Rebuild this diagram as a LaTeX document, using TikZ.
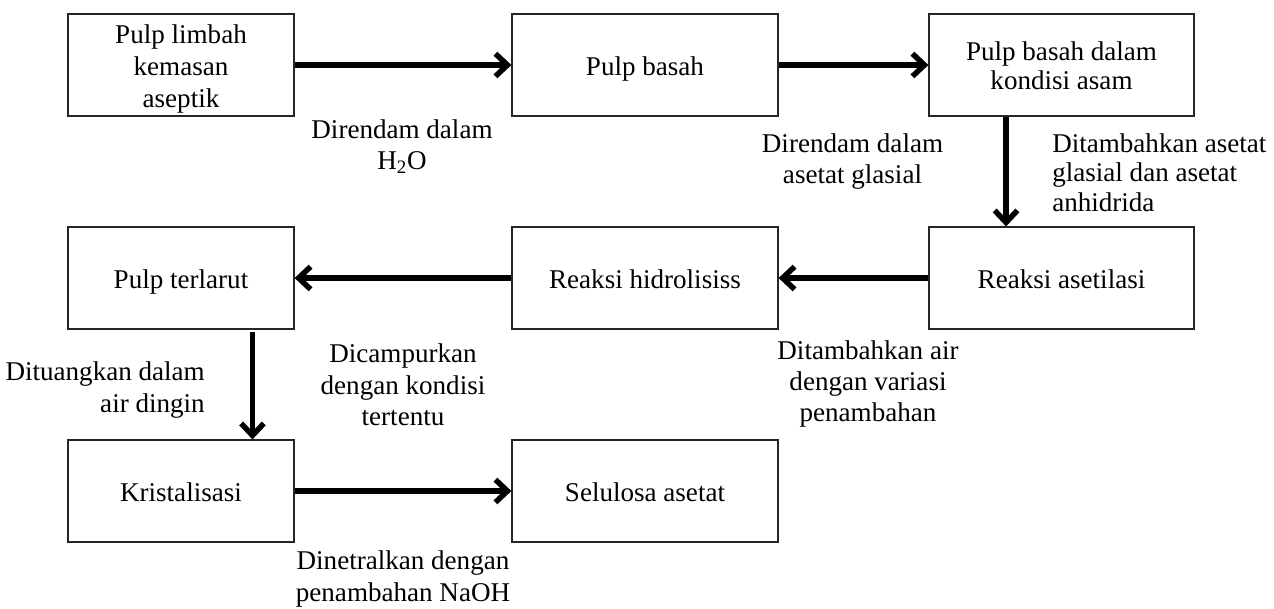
\documentclass[tikz,border=0pt]{standalone}
\usepackage{fontspec}
\setmainfont{Liberation Serif}
\usetikzlibrary{arrows.meta}
\newcommand\mytop{\rule{0pt}{20pt}}
\newcommand\mybot{\rule[-5pt]{0pt}{0pt}}
\begin{document}
\begin{tikzpicture}[x=0.75pt,y=-0.75pt,
  box/.style={draw=black!85, line width=0.9pt, minimum height=76.5pt, inner xsep=2pt, inner ysep=0pt, align=center,
    font=\fontsize{20.3}{24}\selectfont},
  lbl/.style={inner sep=0pt, font=\fontsize{20.3}{23.5}\selectfont},
  flow/.style={line width=4.1pt, -{Straight Barb[length=9pt,width=17pt]}}]
\useasboundingbox (0,0) rectangle (1274,608);
% row 1
\node[box, minimum width=169.5pt] (b1) at (181,65) {\mytop Pulp limbah\\kemasan\\aseptik\mybot};
\node[box, minimum width=199.5pt] (b2) at (645,65) {\mytop Pulp basah\mybot};
\node[box, minimum width=198.75pt, font=\fontsize{20.3}{21.25}\selectfont] (b3) at (1061.5,65) {\mytop Pulp basah dalam\\kondisi asam\mybot};
% row 2
\node[box, minimum width=169.5pt] (b6) at (181,278) {\mytop Pulp terlarut\mybot};
\node[box, minimum width=199.5pt] (b5) at (645,278) {\mytop Reaksi hidrolisiss\mybot};
\node[box, minimum width=198.75pt] (b4) at (1061.5,278) {\mytop Reaksi asetilasi\mybot};
% row 3
\node[box, minimum width=169.5pt] (b7) at (181,491) {\mytop Kristalisasi\mybot};
\node[box, minimum width=199.5pt] (b8) at (645,491) {\mytop Selulosa asetat\mybot};
% connectors
\draw[flow] (b1.east) -- (b2.west);
\draw[flow] (b2.east) -- (b3.west);
\draw[flow] ([xshift=-41.6pt]b3.south) -- ([xshift=-41.6pt]b4.north);
\draw[flow] (b4.west) -- (b5.east);
\draw[flow] (b5.west) -- (b6.east);
\draw[flow] ([xshift=53.6pt,yshift=-1.5pt]b6.south) -- ([xshift=53.6pt]b7.north);
\draw[flow] (b7.east) -- (b8.west);
% labels
\node[lbl, align=center] (l1) at (402,146.5) {Direndam dalam\\H\textsubscript{2}O};
\node[lbl, align=center] (l2) at (852.5,161.5) {Direndam dalam\\asetat glasial};
\node[lbl, align=left, anchor=west, font=\fontsize{20.3}{22}\selectfont] (l3) at (1052,172.5) {Ditambahkan asetat\\glasial dan asetat\\anhidrida};
\node[lbl, align=center] (l4) at (868,384) {Ditambahkan air\\dengan variasi\\penambahan};
\node[lbl, align=center] (l5) at (403,385) {Dicampurkan\\dengan kondisi\\tertentu};
\node[lbl, align=right, anchor=east] (l6) at (205,390) {Dituangkan dalam\\air dingin};
\node[lbl, align=center] (l7) at (403,579) {Dinetralkan dengan\\penambahan NaOH};
\end{tikzpicture}
\end{document}
